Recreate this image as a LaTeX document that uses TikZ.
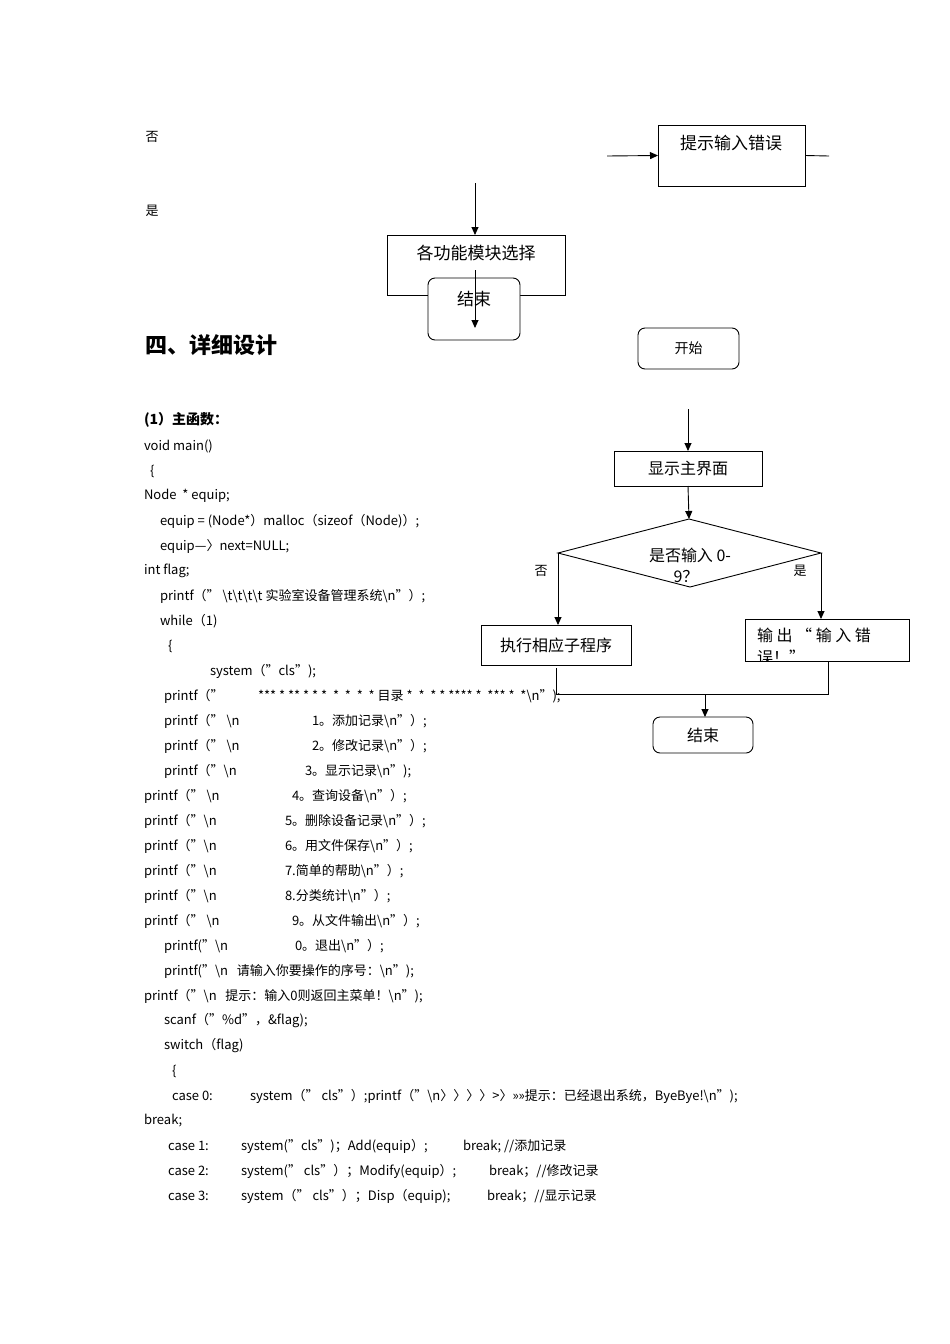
\documentclass[tikz,border=0pt]{standalone}
\usepackage{fontspec}
\setmainfont{Noto Sans CJK SC}
\usetikzlibrary{arrows.meta}
\begin{document}
\begin{tikzpicture}[x=1pt,y=-1pt,
 every node/.style={inner sep=0,outer sep=0},
 code/.style={anchor=west,font=\fontsize{13}{15}\selectfont},
 lbl/.style={font=\fontsize{13}{15}\selectfont},
 box/.style={draw,line width=0.9pt},
 rbox/.style={draw,line width=0.9pt,rounded corners=7pt},
 arr/.style={-{Triangle[length=8pt,width=7pt]},line width=0.9pt},
 ln/.style={line width=0.9pt}]
\useasboundingbox (0,0) rectangle (950,1344);
% top fragment
\node[lbl] (no1) at (152,137) {否};
\node[lbl] (yes1) at (152,211) {是};
\node[box,minimum width=147pt,minimum height=61pt,anchor=north west] (err) at (658,125) {};
\node[lbl,font=\fontsize{17}{19}\selectfont] at (731,143) {提示输入错误};
\coordinate (e0) at (607,156);
\coordinate (e1) at (829,156);
\draw[arr] (e0) -- (err.west);
\draw[ln] (err.east) -- (e1);
\node[box,minimum width=178pt,minimum height=60pt,anchor=north west] (sel) at (387,235) {};
\node[lbl,font=\fontsize{17}{19}\selectfont] at (476,253) {各功能模块选择};
\coordinate (s0) at (475,183);
\draw[arr] (s0) -- (475,235);
\node[rbox,fill=white,minimum width=92pt,minimum height=62pt,anchor=north west] (end1) at (428,278) {};
\node[lbl,font=\fontsize{17}{19}\selectfont] at (474,299) {结束};
\coordinate (s1) at (475,270);
\draw[arr] (s1) -- (475,328);
% headings
\node[anchor=west,font=\fontsize{22}{24}\selectfont\bfseries] (h4) at (145,345) {四、详细设计};
\node[anchor=west,font=\fontsize{14}{16}\selectfont\bfseries] (h1) at (144,420) {(1）主函数：};
% code
\node[code] at (144,446) {void main()};
\node[code] at (150,471) {\{};
\node[code] at (144,496) {Node\ \ * equip;};
\node[code] at (160,521) {equip = (Node*）malloc（sizeof（Node)）;};
\node[code] at (160,546) {equip—〉next=NULL;};
\node[code] at (144,571) {int flag;};
\node[code] at (160,596) {printf（” \textbackslash t\textbackslash t\textbackslash t\textbackslash t 实验室设备管理系统\textbackslash n”）;};
\node[code] at (160,621) {while（1)};
\node[code] at (168,646) {\{};
\node[code] at (210,671) {system（"cls”);};
\node[code] at (164,696) {printf（”};
\node[code] at (258,696) {*** * ** * * *\ \ *\ \ *\ \ *\ \ * 目录 *\ \ *\ \ * * **** *\ \ *** *\ \ *\textbackslash n”);};
\node[code] at (164,721) {printf（” \textbackslash n};
\node[code] at (312,721) {1。添加记录\textbackslash n”）;};
\node[code] at (164,746) {printf（” \textbackslash n};
\node[code] at (312,746) {2。修改记录\textbackslash n”）;};
\node[code] at (164,771) {printf（"\textbackslash n};
\node[code] at (305,771) {3。显示记录\textbackslash n”);};
\node[code] at (144,796) {printf（” \textbackslash n};
\node[code] at (292,796) {4。查询设备\textbackslash n”）;};
\node[code] at (144,821) {printf（"\textbackslash n};
\node[code] at (285,821) {5。删除设备记录\textbackslash n”）;};
\node[code] at (144,846) {printf（"\textbackslash n};
\node[code] at (285,846) {6。用文件保存\textbackslash n”）;};
\node[code] at (144,871) {printf（"\textbackslash n};
\node[code] at (285,871) {7.简单的帮助\textbackslash n”）;};
\node[code] at (144,896) {printf（"\textbackslash n};
\node[code] at (285,896) {8.分类统计\textbackslash n”）;};
\node[code] at (144,921) {printf（” \textbackslash n};
\node[code] at (292,921) {9。从文件输出\textbackslash n”）;};
\node[code] at (164,946) {printf("\textbackslash n};
\node[code] at (295,946) {0。退出\textbackslash n”）;};
\node[code] at (164,971) {printf("\textbackslash n\ \ \ 请输入你要操作的序号：\textbackslash n”);};
\node[code] at (144,996) {printf（"\textbackslash n\ \ \ 提示：输入0则返回主菜单！\textbackslash n”);};
\node[code] at (164,1021) {scanf（"\%d”，\&flag);};
\node[code] at (164,1046) {switch（flag)};
\node[code] at (172,1071) {\{};
\node[code] at (172,1096) {case 0:};
\node[code] at (250,1096) {system（” cls”）;printf（"\textbackslash n〉〉〉〉>〉>>>>提示：已经退出系统，ByeBye!\textbackslash n”);};
\node[code] at (144,1121) {break;};
\node[code] at (168,1146) {case 1:};
\node[code] at (241,1146) {system("cls”)；Add(equip）;};
\node[code] at (463,1146) {break; //添加记录};
\node[code] at (168,1171) {case 2:};
\node[code] at (241,1171) {system(” cls”）；Modify(equip）;};
\node[code] at (489,1171) {break；//修改记录};
\node[code] at (168,1196) {case 3:};
\node[code] at (241,1196) {system（” cls”）；Disp（equip);};
\node[code] at (487,1196) {break；//显示记录};
% flowchart 2
\node[rbox,minimum width=101pt,minimum height=41pt,anchor=north west,label={[lbl,font=\fontsize{14}{16}\selectfont]center:开始}] (start) at (638,328) {};
\node[box,minimum width=148pt,minimum height=35pt,anchor=north west,label={[lbl,font=\fontsize{16}{18}\selectfont]center:显示主界面}] (show) at (614,451) {};
\coordinate (a0) at (688,409);
\draw[arr] (a0) -- (show.north);
\coordinate (dt) at (689,519);
\coordinate (dl) at (558,553);
\coordinate (dr) at (821,553);
\coordinate (db) at (690,587);
\draw[ln] (dt) -- (dr) -- (db) -- (dl) -- cycle;
\draw[arr] (show.south) -- (dt);
\node[lbl,font=\fontsize{16}{18}\selectfont] (q1) at (690,555) {是否输入 0-};
\node[lbl,font=\fontsize{16}{18}\selectfont] (q2) at (686,577) {9？};
\node[lbl] (no2) at (541,571) {否};
\node[lbl] (yes2) at (800,571) {是};
\node[box,minimum width=150pt,minimum height=40pt,anchor=north west,label={[lbl,font=\fontsize{16}{18}\selectfont]center:执行相应子程序}] (exec) at (481,625) {};
\node[box,minimum width=164pt,minimum height=42pt,anchor=north west] (out) at (745,619) {};
\node[lbl,font=\fontsize{16}{18}\selectfont,anchor=west] at (757,635) {输\ 出\ “\ 输\ 入\ 错};
\begin{scope}
\clip (746,640) rectangle (908,660);
\node[lbl,font=\fontsize{16}{18}\selectfont,anchor=west] at (757,657) {误！”};
\end{scope}
\draw[arr] (dl) -- (dl |- exec.north);
\draw[arr] (dr) -- (dr |- out.north);
\node[rbox,minimum width=100pt,minimum height=36pt,anchor=north west,label={[lbl,font=\fontsize{16}{18}\selectfont]center:结束}] (end2) at (653,717) {};
\coordinate (j) at (705,694);
\draw[ln] (556,668) -- (556,694) -- (828,694) -- (out.south -| 828,0);
\draw[arr] (j) -- (end2.north -| j);
\end{tikzpicture}
\end{document}
